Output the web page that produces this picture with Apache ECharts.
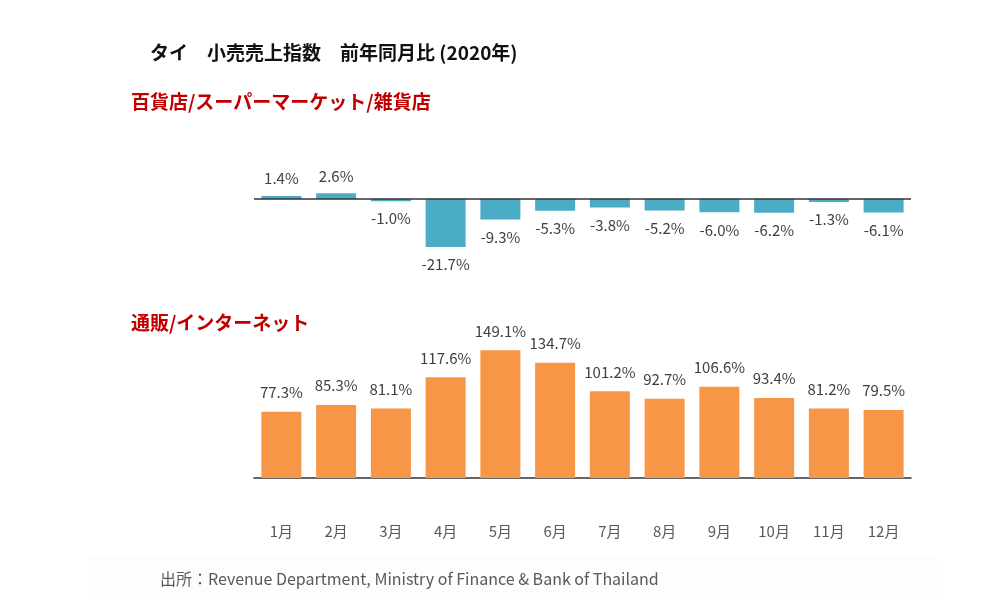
<!DOCTYPE html>
<html>
<head>
<meta charset="utf-8">
<script src="https://cdn.jsdelivr.net/npm/echarts@6/dist/echarts.min.js"></script>
<style>
html,body{margin:0;padding:0;background:#fff;}
#chart{width:1000px;height:604px;}
</style>
</head>
<body>
<div id="chart"></div>
<script>
const months = ['1月','2月','3月','4月','5月','6月','7月','8月','9月','10月','11月','12月'];
const deptStore = [1.4, 2.6, -1.0, -21.7, -9.3, -5.3, -3.8, -5.2, -6.0, -6.2, -1.3, -6.1];
const online = [77.3, 85.3, 81.1, 117.6, 149.1, 134.7, 101.2, 92.7, 106.6, 93.4, 81.2, 79.5];
const titleText = 'タイ　小売売上指数　前年同月比 (2020年)';
const sub1 = '百貨店/スーパーマーケット/雑貨店';
const sub2 = '通販/インターネット';
const sourceText = '出所：Revenue Department, Ministry of Finance & Bank of Thailand';

const FONT = '"Noto Sans CJK JP", "Noto Sans", sans-serif';
const chart = echarts.init(document.getElementById('chart'));
const labelStyle = {
  show: true,
  color: '#404040',
  fontSize: 15,
  fontFamily: FONT,
  formatter: p => p.value.toFixed(1) + '%'
};
const deptData = deptStore.map(v => ({
  value: v,
  label: { position: v >= 0 ? 'top' : 'bottom', distance: 10 }
}));
chart.setOption({
  backgroundColor: '#fff',
  animation: false,
  textStyle: { fontFamily: FONT },
  graphic: [
    { type: 'rect', shape: { x: 88, y: 557, width: 849, height: 42 }, style: { fill: '#fdfdfd' }, silent: true },
    { type: 'text', left: 150, top: 43, style: { text: titleText, font: 'bold 19px ' + FONT, fill: '#111' } },
    { type: 'text', left: 131, top: 92, style: { text: sub1, font: 'bold 19px ' + FONT, fill: '#c00000' } },
    { type: 'text', left: 131, top: 313, style: { text: sub2, font: 'bold 19px ' + FONT, fill: '#c00000' } },
    { type: 'text', left: 160, top: 571, style: { text: sourceText, font: '16px ' + FONT, fill: '#595959' } }
  ],
  grid: [
    { left: 254, width: 657, top: 188, height: 66.3 },
    { left: 254, width: 657, top: 341, height: 137 }
  ],
  xAxis: [
    { type: 'category', gridIndex: 0, data: months, position: 'bottom',
      axisLine: { show: false }, axisTick: { show: false }, axisLabel: { show: false } },
    { type: 'category', gridIndex: 1, data: months,
      axisLine: { show: true, lineStyle: { color: '#333', width: 1.5 } },
      axisTick: { show: false },
      axisLabel: { color: '#595959', fontSize: 15, margin: 46, fontFamily: FONT } }
  ],
  yAxis: [
    { type: 'value', gridIndex: 0, min: -25, max: 5, show: false, splitLine: { show: false } },
    { type: 'value', gridIndex: 1, min: 0, max: 160, show: false, splitLine: { show: false } }
  ],
  series: [
    { type: 'bar', xAxisIndex: 0, yAxisIndex: 0, data: deptData, barWidth: 40,
      itemStyle: { color: '#4bacc6' },
      label: labelStyle,
      markLine: { silent: true, symbol: 'none', label: { show: false },
        lineStyle: { color: '#333', width: 1.5, type: 'solid' }, data: [{ yAxis: 0 }] }
    },
    { type: 'bar', xAxisIndex: 1, yAxisIndex: 1, data: online, barWidth: 40,
      itemStyle: { color: '#f79646' },
      label: Object.assign({}, labelStyle, { position: 'top', distance: 12 })
    }
  ]
});
</script>
</body>
</html>
